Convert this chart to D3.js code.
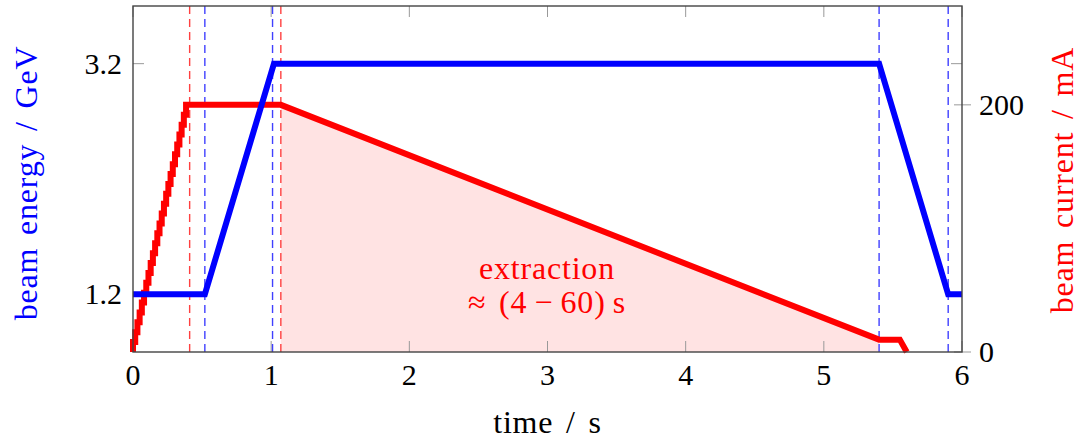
<!DOCTYPE html>
<html>
<head>
<meta charset="utf-8">
<script src="https://cdn.jsdelivr.net/npm/d3@7"></script>
<style>
  html, body { margin: 0; padding: 0; background: #fff; }
  svg text { font-family: "Liberation Serif", "DejaVu Serif", serif; }
</style>
</head>
<body>
<div id="chart"></div>
<script>
// beam energy cycle (blue, left axis)
const energyTime = [0, 0.52, 1.02, 5.4, 5.9, 6];
const energyGeV = [1.2, 1.2, 3.2, 3.2, 1.2, 1.2];

// injection staircase (red, right axis)
const rampTime = [0, 0.016, 0.032, 0.048, 0.064, 0.08, 0.096, 0.112, 0.128, 0.144, 0.16, 0.176, 0.192,
  0.208, 0.224, 0.24, 0.256, 0.272, 0.288, 0.304, 0.32, 0.336, 0.352, 0.368, 0.384, 0.4];
const rampCurrent = [8, 16, 24, 32, 40, 48, 56, 64, 72, 80, 88, 96, 104,
  112, 120, 128, 136, 144, 152, 160, 168, 176, 184, 192, 200, 200];

// storage + extraction + dump
const currentTime = [1.07, 5.4, 5.55, 5.6];
const currentMA = [200, 10, 10, 0];

// shaded extraction window
const extractionTime = [1.07, 5.4];
const extractionMA = [200, 10];

// marker lines
const blueMarks = [0.52, 1.01, 5.4, 5.9];
const redMarks = [0.41, 1.07];

const xTicks = [0, 1, 2, 3, 4, 5, 6];
const energyTicks = [1.2, 3.2];
const currentTicks = [0, 200];

const width = 1081, height = 444;
const pLeft = 133, pRight = 962, pTop = 6, pBottom = 352;

const x = d3.scaleLinear().domain([0, 6]).range([pLeft, pRight]);
const yE = d3.scaleLinear().domain([0.7, 3.7]).range([pBottom, pTop]);
const yI = d3.scaleLinear().domain([0, 280]).range([pBottom, pTop]);

const svg = d3.select("#chart")
  .append("svg")
  .attr("width", width)
  .attr("height", height);

// shaded area under extraction
const area = d3.area()
  .x((d) => x(d[0]))
  .y0(yI(0))
  .y1((d) => yI(d[1]));

svg.append("path")
  .attr("d", area(extractionTime.map((t, i) => [t, extractionMA[i]])))
  .attr("fill", "#ff0000")
  .attr("fill-opacity", 0.11);

// ticks (inside)
const tickLen = 11;
const ticks = svg.append("g").attr("stroke", "#999").attr("stroke-width", 1);

xTicks.forEach((t) => {
  ticks.append("line").attr("x1", x(t)).attr("x2", x(t)).attr("y1", pBottom).attr("y2", pBottom - tickLen);
  ticks.append("line").attr("x1", x(t)).attr("x2", x(t)).attr("y1", pTop).attr("y2", pTop + tickLen);
});
energyTicks.forEach((v) => {
  ticks.append("line").attr("x1", pLeft).attr("x2", pLeft + tickLen).attr("y1", yE(v)).attr("y2", yE(v));
  ticks.append("line").attr("x1", pRight).attr("x2", pRight - tickLen).attr("y1", yE(v)).attr("y2", yE(v));
});
currentTicks.forEach((v) => {
  ticks.append("line").attr("x1", pRight - 8).attr("x2", pRight + 9).attr("y1", yI(v)).attr("y2", yI(v));
});

// dashed markers
blueMarks.forEach((t) => {
  svg.append("line")
    .attr("x1", x(t)).attr("x2", x(t))
    .attr("y1", pTop).attr("y2", pBottom)
    .attr("stroke", "#4040ff")
    .attr("stroke-width", 1.4)
    .attr("stroke-dasharray", "8,5");
});
redMarks.forEach((t) => {
  svg.append("line")
    .attr("x1", x(t)).attr("x2", x(t))
    .attr("y1", pTop).attr("y2", pBottom)
    .attr("stroke", "#ff4040")
    .attr("stroke-width", 1.4)
    .attr("stroke-dasharray", "8,5");
});

// red current: staircase (rise first, then hold) then linear
const currentPts = [[0, 0]];
rampTime.forEach((t, i) => {
  currentPts.push([t, rampCurrent[i]]);
  if (i < rampTime.length - 1) currentPts.push([rampTime[i + 1], rampCurrent[i]]);
});
currentTime.forEach((t, i) => currentPts.push([t, currentMA[i]]));

const line = (ys) => d3.line().x((d) => x(d[0])).y((d) => ys(d[1]));

svg.append("path")
  .attr("d", line(yI)(currentPts))
  .attr("fill", "none")
  .attr("stroke", "#ff0000")
  .attr("stroke-width", 6)
  .attr("stroke-linejoin", "miter");

// blue energy
svg.append("path")
  .attr("d", line(yE)(energyTime.map((t, i) => [t, energyGeV[i]])))
  .attr("fill", "none")
  .attr("stroke", "#0000ff")
  .attr("stroke-width", 6)
  .attr("stroke-linejoin", "miter");

// axis frame
svg.append("rect")
  .attr("x", pLeft).attr("y", pTop)
  .attr("width", pRight - pLeft).attr("height", pBottom - pTop)
  .attr("fill", "none")
  .attr("stroke", "#444")
  .attr("stroke-width", 1.4);

// tick labels
const fs = 30;
const lfs = 32;
xTicks.forEach((t) => {
  svg.append("text")
    .attr("x", x(t)).attr("y", 385)
    .attr("text-anchor", "middle")
    .style("font-size", fs + "px")
    .text(t);
});
energyTicks.forEach((v) => {
  svg.append("text")
    .attr("x", 122).attr("y", yE(v))
    .attr("dy", "0.33em")
    .attr("text-anchor", "end")
    .style("font-size", fs + "px")
    .text(v.toFixed(1));
});
currentTicks.forEach((v) => {
  svg.append("text")
    .attr("x", 979).attr("y", yI(v))
    .attr("dy", "0.33em")
    .attr("text-anchor", "start")
    .style("font-size", fs + "px")
    .text(v);
});

// axis labels
const label = (sel) => sel
  .attr("text-anchor", "middle")
  .style("font-size", lfs + "px")
  .style("letter-spacing", "0.8px")
  .style("word-spacing", "4px");

svg.append("text")
  .attr("x", (pLeft + pRight) / 2).attr("y", 433)
  .call(label)
  .text("time / s");

svg.append("text")
  .attr("transform", "translate(37,183) rotate(-90)")
  .call(label)
  .style("fill", "#0000ff")
  .text("beam energy / GeV");

svg.append("text")
  .attr("transform", "translate(1073,180) rotate(-90)")
  .call(label)
  .style("fill", "#ff0000")
  .text("beam current / mA");

// extraction note
const note = svg.append("g").style("fill", "#ff0000");
note.append("text")
  .attr("x", 547).attr("y", 279)
  .call(label)
  .text("extraction");
note.append("text")
  .attr("x", 547).attr("y", 313)
  .call(label)
  .text("≈ (4\u2009−\u200960)\u2009s");
</script>
</body>
</html>
